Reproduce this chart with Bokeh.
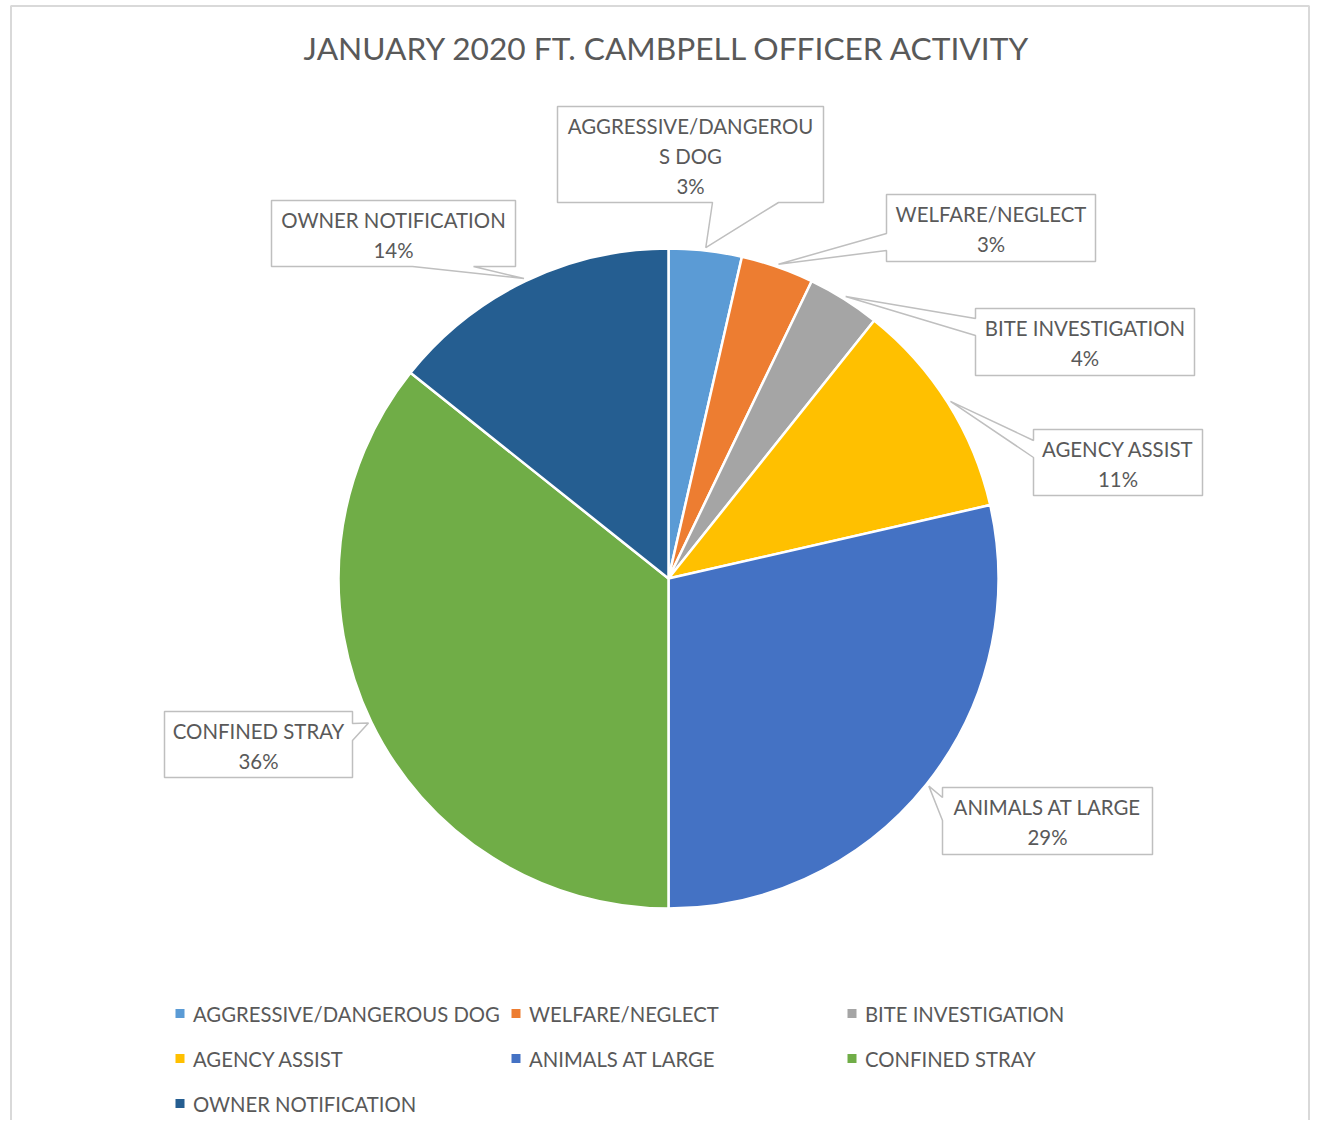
import numpy as np
from bokeh.plotting import figure
from bokeh.models import Range1d
from bokeh.embed import file_html
from bokeh.resources import INLINE
from bokeh.core.properties import value

# ---------------- data ----------------
chart_title = "JANUARY 2020 FT. CAMBPELL OFFICER ACTIVITY"
categories = ["AGGRESSIVE/DANGEROUS DOG", "WELFARE/NEGLECT", "BITE INVESTIGATION",
              "AGENCY ASSIST", "ANIMALS AT LARGE", "CONFINED STRAY", "OWNER NOTIFICATION"]
counts = [1, 1, 1, 3, 8, 10, 4]
pct_labels = ["3%", "3%", "4%", "11%", "29%", "36%", "14%"]
label_names = [["AGGRESSIVE/DANGEROU", "S DOG"], ["WELFARE/NEGLECT"], ["BITE INVESTIGATION"],
               ["AGENCY ASSIST"], ["ANIMALS AT LARGE"], ["CONFINED STRAY"], ["OWNER NOTIFICATION"]]
colors = ["#5B9BD5", "#ED7D31", "#A5A5A5", "#FFC000", "#4472C4", "#70AD47", "#255E91"]

# ---------------- layout ----------------
W, H = 1310, 1120
FONT = "Lato"
TXT = "#595959"
def Y(sy):
    return H - sy

p = figure(width=W, height=H, output_backend="svg", toolbar_location=None,
           x_range=Range1d(0, W), y_range=Range1d(0, H), min_border=0)
p.axis.visible = False
p.grid.visible = False
p.outline_line_color = None
p.background_fill_color = "white"

# chart border
p.line([10.5, 10.5, 1308.5, 1308.5], [Y(1140), Y(5.5), Y(5.5), Y(1140)], line_color="#D9D9D9", line_width=2)

# title
p.text([667], [Y(47)], text=[chart_title], text_font=value(FONT), text_font_size="31.7px",
       text_color=TXT, text_align="center", text_baseline="middle")

# pie
cx, cy, R = 668, Y(578), 330
vals = np.array(counts, dtype=float)
cum = np.concatenate([[0], np.cumsum(vals)]) / vals.sum()
starts = np.pi / 2 - 2 * np.pi * cum[1:]
ends = np.pi / 2 - 2 * np.pi * cum[:-1]
p.wedge(x=[cx] * len(vals), y=[cy] * len(vals), radius=R, start_angle=starts, end_angle=ends,
        fill_color=colors, line_color="white", line_width=2.5)

# callout boxes: (left, top, right, bottom, side, base1, base2) in screen px
boxes = [
    (557, 106, 823, 202, "bottom", 712, 778),
    (886, 194, 1095, 261, "left", 233, 250),
    (975, 308, 1194, 375, "left", 318, 335),
    (1033, 429, 1202, 495, "left", 440, 457),
    (942, 787, 1152, 854, "left", 797, 820),
    (164, 711, 352, 777, "right", 723, 740),
    (271, 200, 515, 266, "bottom", 412, 473),
]
mids = (cum[:-1] + cum[1:]) / 2 * 2 * np.pi
xs_all, ys_all = [], []
tx, ty, tt = [], [], []
for i, (L, T, Rr, B, side, b1, b2) in enumerate(boxes):
    a = mids[i]
    tipx = 668 + 333 * np.sin(a)
    tipy = 578 - 333 * np.cos(a)
    pts = [(L, T), (Rr, T)]
    if side == "right":
        pts += [(Rr, b1), (tipx, tipy), (Rr, b2)]
    pts += [(Rr, B)]
    if side == "bottom":
        pts += [(b2, B), (tipx, tipy), (b1, B)]
    pts += [(L, B)]
    if side == "left":
        pts += [(L, b2), (tipx, tipy), (L, b1)]
    xs_all.append([q[0] for q in pts])
    ys_all.append([Y(q[1]) for q in pts])
    lines = label_names[i] + [pct_labels[i]]
    for k, s in enumerate(lines):
        tx.append((L + Rr) / 2)
        ty.append(Y(T + 19 + 30 * k))
        tt.append(s)
p.patches(xs_all, ys_all, fill_color="white", line_color="#BFBFBF", line_width=1.5)
p.text(tx, ty, text=tt, text_font=value(FONT), text_font_size="20.4px", text_color=TXT,
       text_align="center", text_baseline="middle")

# legend
col_x = [179.5, 515.5, 851.5]
row_y = [1013, 1058, 1103]
lx, ly, lt, lc = [], [], [], []
for i, name in enumerate(categories):
    r, c = divmod(i, 3)
    lx.append(col_x[c]); ly.append(Y(row_y[r])); lt.append(name); lc.append(colors[i])
p.rect(lx, ly, width=9, height=9, fill_color=lc, line_color=None)
p.text([x + 13 for x in lx], ly, text=lt, text_font=value(FONT), text_font_size="20.3px",
       text_color=TXT, text_align="left", text_baseline="middle")

open("out.html", "w").write(file_html(p, INLINE))
